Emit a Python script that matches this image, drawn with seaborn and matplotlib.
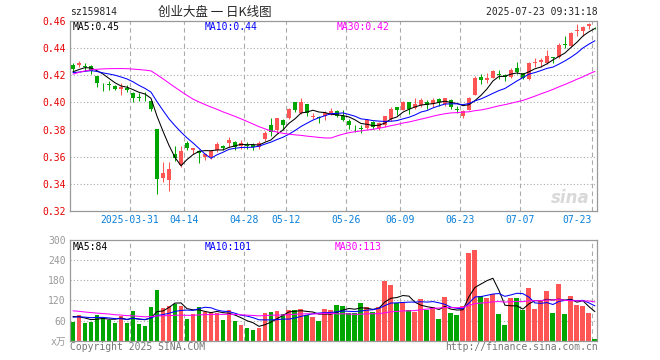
#!/usr/bin/env python
"""Daily K-line chart of sz159814 (创业大盘) with price MA lines and a
volume panel underneath, styled after the sina finance quote image.
"""
import matplotlib
matplotlib.use('Agg')
import matplotlib.pyplot as plt
import seaborn as sb
import pandas as pd

# daily candles, 2025-03-17 .. 2025-07-23 (88 trading days)
opens = [0.4277, 0.4277, 0.4265, 0.4267, 0.4193, 0.4130, 0.4135, 0.4120, 0.4100, 0.4105,
         0.4066, 0.4037, 0.4042, 0.4012, 0.3806, 0.3448, 0.3433, 0.3624, 0.3541, 0.3703,
         0.3654, 0.3646, 0.3597, 0.3597, 0.3651, 0.3681, 0.3705, 0.3710, 0.3681, 0.3688,
         0.3686, 0.3676, 0.3730, 0.3835, 0.3794, 0.3872, 0.3884, 0.4002, 0.3921, 0.3985,
         0.3892, 0.3892, 0.3897, 0.3916, 0.3936, 0.3901, 0.3867, 0.3823, 0.3811, 0.3811,
         0.3855, 0.3811, 0.3835, 0.3877, 0.3968, 0.3946, 0.4000, 0.3958, 0.3983, 0.4000,
         0.3990, 0.4024, 0.3985, 0.4019, 0.3953, 0.3899, 0.3948, 0.4058, 0.4186, 0.4162,
         0.4181, 0.4210, 0.4201, 0.4186, 0.4250, 0.4216, 0.4169, 0.4287, 0.4299, 0.4292,
         0.4333, 0.4333, 0.4431, 0.4414, 0.4525, 0.4525, 0.4561, 0.4549]
highs = [0.4292, 0.4302, 0.4292, 0.4277, 0.4198, 0.4144, 0.4160, 0.4130, 0.4142, 0.4130,
         0.4076, 0.4066, 0.4076, 0.4017, 0.3806, 0.3561, 0.3561, 0.3683, 0.3683, 0.3717,
         0.3668, 0.3650, 0.3631, 0.3650, 0.3706, 0.3688, 0.3749, 0.3720, 0.3725, 0.3710,
         0.3705, 0.3720, 0.3789, 0.3889, 0.3889, 0.3877, 0.3958, 0.4005, 0.4032, 0.3985,
         0.3921, 0.3904, 0.3934, 0.3958, 0.3946, 0.3946, 0.3877, 0.3835, 0.3835, 0.3877,
         0.3860, 0.3855, 0.3904, 0.3963, 0.3968, 0.4007, 0.4005, 0.4029, 0.4029, 0.4019,
         0.4034, 0.4034, 0.4034, 0.4024, 0.3975, 0.3948, 0.4039, 0.4193, 0.4210, 0.4218,
         0.4242, 0.4242, 0.4210, 0.4255, 0.4296, 0.4218, 0.4296, 0.4328, 0.4328, 0.4382,
         0.4333, 0.4439, 0.4488, 0.4517, 0.4574, 0.4561, 0.4586, 0.4554]
lows = [0.4228, 0.4262, 0.4228, 0.4208, 0.4110, 0.4086, 0.4095, 0.4095, 0.4054, 0.4076,
        0.4002, 0.4012, 0.4012, 0.3938, 0.3325, 0.3418, 0.3349, 0.3570, 0.3526, 0.3649,
        0.3624, 0.3558, 0.3578, 0.3585, 0.3634, 0.3651, 0.3676, 0.3651, 0.3656, 0.3661,
        0.3651, 0.3661, 0.3715, 0.3754, 0.3774, 0.3799, 0.3877, 0.3933, 0.3916, 0.3897,
        0.3877, 0.3852, 0.3872, 0.3909, 0.3892, 0.3860, 0.3803, 0.3786, 0.3779, 0.3803,
        0.3803, 0.3799, 0.3823, 0.3867, 0.3909, 0.3941, 0.3914, 0.3951, 0.3970, 0.3951,
        0.3970, 0.3975, 0.3975, 0.3951, 0.3921, 0.3886, 0.3941, 0.4054, 0.4132, 0.4144,
        0.4176, 0.4169, 0.4157, 0.4176, 0.4211, 0.4169, 0.4162, 0.4260, 0.4260, 0.4279,
        0.4292, 0.4328, 0.4402, 0.4407, 0.4488, 0.4488, 0.4537, 0.4542]
closes = [0.4247, 0.4292, 0.4260, 0.4228, 0.4140, 0.4125, 0.4130, 0.4100, 0.4110, 0.4095,
          0.4036, 0.4032, 0.4037, 0.3953, 0.3440, 0.3482, 0.3511, 0.3595, 0.3644, 0.3668,
          0.3663, 0.3632, 0.3622, 0.3641, 0.3695, 0.3666, 0.3725, 0.3676, 0.3700, 0.3681,
          0.3671, 0.3705, 0.3779, 0.3786, 0.3884, 0.3835, 0.3950, 0.3941, 0.4000, 0.3921,
          0.3902, 0.3884, 0.3921, 0.3938, 0.3901, 0.3872, 0.3835, 0.3816, 0.3803, 0.3872,
          0.3823, 0.3848, 0.3897, 0.3953, 0.3946, 0.4000, 0.3951, 0.3985, 0.4019, 0.3980,
          0.4019, 0.4000, 0.4029, 0.3970, 0.3946, 0.3936, 0.4034, 0.4181, 0.4162, 0.4181,
          0.4230, 0.4201, 0.4186, 0.4242, 0.4225, 0.4181, 0.4292, 0.4296, 0.4309, 0.4341,
          0.4324, 0.4419, 0.4422, 0.4513, 0.4532, 0.4554, 0.4574, 0.4544]
# volume in units of 10k shares (万)
volumes = [56, 76, 54, 56, 78, 69, 63, 54, 75, 54,
           89, 50, 44, 101, 150, 98, 102, 109, 104, 65,
           80, 101, 86, 86, 83, 62, 92, 59, 47, 38,
           32, 38, 83, 86, 89, 80, 91, 92, 95, 78,
           71, 59, 95, 92, 107, 104, 82, 84, 113, 101,
           86, 101, 177, 167, 112, 116, 92, 86, 123, 90,
           101, 65, 131, 83, 77, 104, 260, 269, 134, 127,
           140, 80, 47, 126, 126, 92, 158, 95, 122, 149,
           83, 170, 80, 134, 107, 104, 83, 5]

# sessions before the visible window, only used to warm up the moving
# averages (estimated from where the MA lines start in the picture)
prior_closes = [0.390, 0.394, 0.398, 0.402, 0.405, 0.407, 0.409, 0.410, 0.412, 0.413,
                0.414, 0.415, 0.413, 0.428, 0.438, 0.446, 0.452, 0.455, 0.454, 0.449,
                0.426, 0.420, 0.418, 0.420, 0.423, 0.421, 0.419, 0.424, 0.424]
prior_volumes = [120, 115, 108, 125, 110, 104, 118, 106, 100, 112,
                 92, 88, 80, 95, 84, 78, 90, 82, 86, 77,
                 66, 62, 72, 70, 70, 78, 74, 80, 72]

tick_index = [10, 19, 29, 36, 46, 55, 65, 75, 87]
tick_labels = ['2025-03-31', '04-14', '04-28', '05-12', '05-26',
               '06-09', '06-23', '07-07', '07-23']
price_ticks = [0.32, 0.34, 0.36, 0.38, 0.40, 0.42, 0.44, 0.46]
volume_ticks = [0, 60, 120, 180, 240, 300]
volume_tick_labels = ['x万', '60', '120', '180', '240', '300']

ma_windows = [5, 10, 30]
ma_colors = ['#000000', '#0000ff', '#ff00ff']
price_ma_text = ['MA5:0.45', 'MA10:0.44', 'MA30:0.42']
volume_ma_text = ['MA5:84', 'MA10:101', 'MA30:113']

up_color = '#ff5555'
down_color = '#00a600'
frame_color = '#999999'
grid_color = '#aaaaaa'


def fx(x):
    return x / 660.0


def fy(y):
    return 1 - y / 360.0


def dress_axes(ax):
    for sp in ax.spines.values():
        sp.set_color(frame_color)
        sp.set_linewidth(0.9)
    for k in tick_index:
        ax.axvline(k - 0.5, color=grid_color, lw=0.8, ls=(0, (4, 3)), zorder=0)
    ax.tick_params(length=0)


def main():
    sb.set_style('white')
    plt.rcParams['font.family'] = ['DejaVu Sans Mono', 'Noto Sans CJK SC']

    n = len(closes)
    df = pd.DataFrame({'idx': range(n), 'open': opens, 'high': highs,
                       'low': lows, 'close': closes, 'volume': volumes})
    df['color'] = [up_color if c >= o else down_color for o, c in zip(opens, closes)]

    all_close = pd.Series(prior_closes + closes)
    all_vol = pd.Series(prior_volumes + volumes, dtype=float)
    skip = len(prior_closes)

    fig = plt.figure(figsize=(6.6, 3.6), dpi=100)
    ax = fig.add_axes([fx(70), fy(211.3), fx(527), 190.5 / 360])
    axv = fig.add_axes([fx(70), fy(340.7), fx(527), 100.7 / 360])

    # ---- price panel
    dress_axes(ax)
    for p in price_ticks[1:-1]:
        ax.axhline(p, color=grid_color, lw=0.8, ls=(0, (1, 2)), zorder=0)
    ax.vlines(df['idx'], df['low'], df['high'], colors=df['color'], lw=0.75, zorder=2)
    body = (df['close'] - df['open']).abs().clip(lower=0.0005)
    ax.bar(df['idx'], body, bottom=df[['open', 'close']].min(axis=1), width=0.74,
           color=df['color'], linewidth=0, zorder=3)
    for w, c in zip(ma_windows, ma_colors):
        ma = all_close.rolling(w).mean().iloc[skip:].reset_index(drop=True)
        sb.lineplot(x=df['idx'], y=ma, color=c, lw=0.75, ax=ax, zorder=4)
    ax.set_xlim(-0.5, 87.35)
    ax.set_ylim(0.32, 0.46)
    ax.set_yticks(price_ticks)
    ax.set_yticklabels(['%.2f' % p for p in price_ticks], color='#e60000', fontsize=7)
    ax.set_xticks([k - 0.5 for k in tick_index])
    ax.set_xticklabels(tick_labels, color='#0a7fd8', fontsize=7)
    ax.get_xticklabels()[-1].set_ha('right')
    ax.tick_params(axis='y', pad=3)
    ax.tick_params(axis='x', pad=3)
    ax.set_xlabel('')
    ax.set_ylabel('')
    ax.text(0.985, 0.07, 'sina', transform=ax.transAxes, ha='right', va='center',
            fontsize=12, style='italic', weight='bold', color='#d9d9d9',
            family='DejaVu Sans', zorder=1)

    # ---- volume panel
    dress_axes(axv)
    for v in volume_ticks[1:-1]:
        axv.axhline(v, color=grid_color, lw=0.8, ls=(0, (1, 2)), zorder=0)
    axv.bar(df['idx'], df['volume'], width=0.82, color=df['color'], linewidth=0, zorder=2)
    for w, c in zip(ma_windows, ma_colors):
        ma = all_vol.rolling(w).mean().iloc[skip:].reset_index(drop=True)
        sb.lineplot(x=df['idx'], y=ma, color=c, lw=0.75, ax=axv, zorder=4)
    axv.set_xlim(-0.5, 87.35)
    axv.set_ylim(0, 300)
    axv.set_yticks(volume_ticks)
    axv.set_yticklabels(volume_tick_labels, color='#999999', fontsize=7)
    axv.set_xticks([])
    axv.set_xlabel('')
    axv.set_ylabel('')
    axv.tick_params(axis='y', pad=3)

    # ---- header, MA captions and footer
    fig.text(fx(70), fy(12), 'sz159814', fontsize=7, va='center')
    fig.text(fx(215), fy(12), '创业大盘 一 日K线图', fontsize=9, va='center', ha='center',
             family=['Noto Sans CJK SC', 'DejaVu Sans'])
    fig.text(fx(598), fy(12), '2025-07-23 09:31:18', fontsize=7, va='center', ha='right')
    for x, t, c in zip([73, 205, 337], price_ma_text, ma_colors):
        fig.text(fx(x), fy(27), t, fontsize=7, color=c, va='center')
    for x, t, c in zip([73, 205, 335], volume_ma_text, ma_colors):
        fig.text(fx(x), fy(247), t, fontsize=7, color=c, va='center')
    fig.text(fx(70), fy(347), 'Copyright 2025 SINA.COM', fontsize=7, color='#777777', va='center')
    fig.text(fx(598), fy(347), 'http://finance.sina.com.cn', fontsize=7, color='#777777',
             va='center', ha='right')

    fig.savefig('out.png', dpi=100, facecolor='white')


if __name__ == "__main__":
    main()
